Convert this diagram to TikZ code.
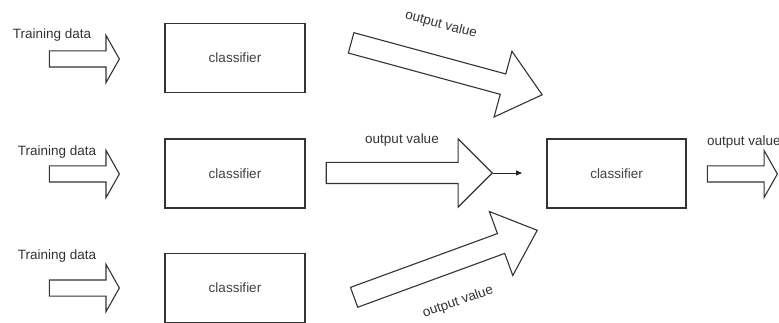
\documentclass[tikz,border=0pt]{standalone}
\usepackage{fontspec}
\setmainfont{Liberation Sans}
\usetikzlibrary{shapes.arrows,arrows.meta}
\begin{document}
\begin{tikzpicture}[x=1pt,y=-1pt,
  box/.style={draw=black!80, line width=1.2pt, minimum width=140pt, minimum height=69pt, inner sep=0pt, text=black!75, font=\fontsize{13.5}{16}\selectfont},
  lbl/.style={text=black!80, font=\fontsize{13.5}{16}\selectfont, inner sep=0pt},
  blockarrow/.style={draw=black!80, line width=1.1pt, single arrow, inner xsep=0pt, single arrow head indent=0pt},
  smallarrow/.style={blockarrow, minimum height=70pt, inner ysep=7.5pt, single arrow head extend=15.5pt, single arrow tip angle=121},
  bigarrow/.style={blockarrow, inner ysep=10pt, single arrow head extend=23.5pt}
]
\useasboundingbox (0,0) rectangle (779,323);
% classifier boxes
\node[box] (b1) at (235,58) {classifier};
\node[box] (b2) at (235,173.5) {classifier};
\node[box] (b3) at (235,288) {classifier};
\node[box, minimum width=139pt] (b4) at (616.5,173.5) {classifier};
% input arrows
\node[smallarrow, anchor=tip] (in1) at (120,59) {};
\node[smallarrow, anchor=tip] (in2) at (120,174) {};
\node[smallarrow, anchor=tip] (in3) at (120,288) {};
\node[smallarrow, anchor=tip] (out) at (778,174) {};
% output arrows
\node[bigarrow, minimum height=166pt, single arrow tip angle=90, anchor=tip] (mid) at (493,173) {};
\node[bigarrow, minimum height=198pt, single arrow tip angle=80, rotate=-15.2, anchor=tip] (d1) at (543,95) {};
\node[bigarrow, minimum height=195pt, single arrow tip angle=83, rotate=20.1, anchor=tip] (d2) at (538,230) {};
\coordinate (c) at (522,173);
\draw[black!85, line width=0.9pt, -{Triangle[length=6pt,width=5pt]}] (mid.tip) -- (c);
% labels
\node[lbl] (t1) at (52,35) {Training data};
\node[lbl] (t2) at (57,152) {Training data};
\node[lbl] (t3) at (57,256) {Training data};
\node[lbl, rotate=-15] (o1) at (441,25) {output value};
\node[lbl] (o2) at (402,140) {output value};
\node[lbl, rotate=19] (o3) at (458,302) {output value};
\node[lbl, anchor=west] (o4) at (707,142) {output value};
\end{tikzpicture}
\end{document}
